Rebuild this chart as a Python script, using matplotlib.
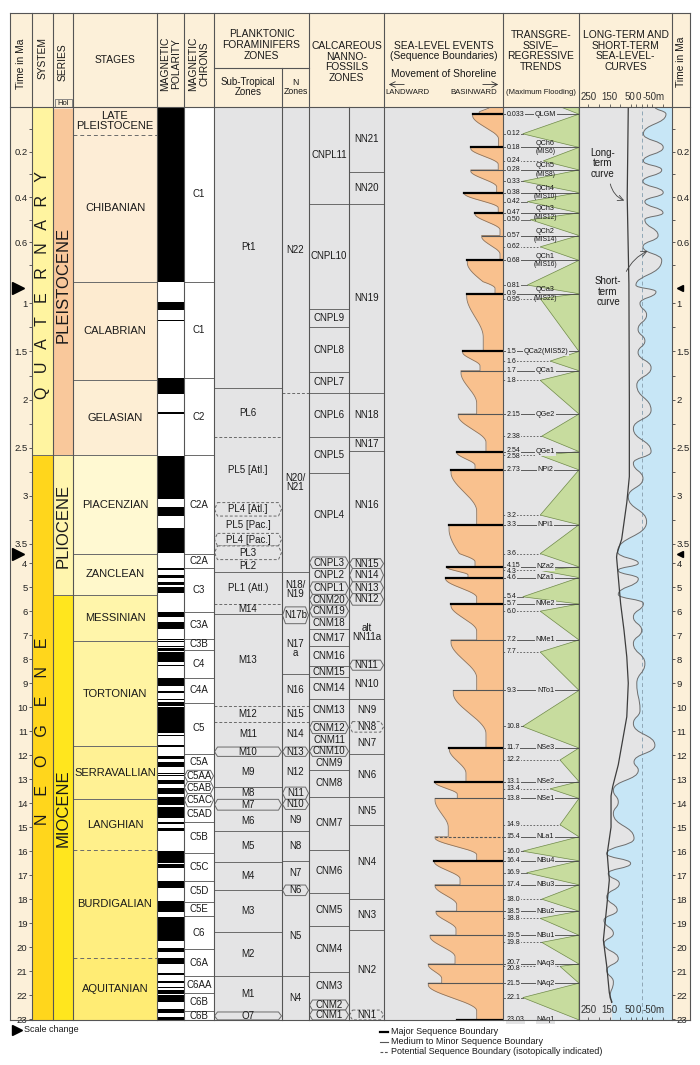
import numpy as np
import matplotlib
matplotlib.use('Agg')
import matplotlib.pyplot as plt
from matplotlib.path import Path
from matplotlib.patches import PathPatch, Polygon, Rectangle

plt.rcParams['font.family'] = ['Liberation Sans', 'DejaVu Sans']

END = 23.03

# ---- stratigraphy ---------------------------------------------------------
SYSTEMS = ['Q   U   A   T   E   R   N   A   R   Y', 'N    E    O    G    E    N    E']
SYSTEM_TOP = [0.0, 2.58]
SYSTEM_AT = [0.81, 11.0]
SYSTEM_COL = ['#FFF4A0', '#FFD61C']

SERIES = ['PLEISTOCENE', 'PLIOCENE', 'MIOCENE']
SERIES_TOP = [0.0117, 2.58, 5.333]
SERIES_AT = [0.81, 3.31, 14.19]
SERIES_COL = ['#F9C89B', '#FFF5AE', '#FFE61E']

STAGES = ['LATE\nPLEISTOCENE', 'CHIBANIAN', 'CALABRIAN', 'GELASIAN', 'PIACENZIAN', 'ZANCLEAN',
          'MESSINIAN', 'TORTONIAN', 'SERRAVALLIAN', 'LANGHIAN', 'BURDIGALIAN', 'AQUITANIAN']
STAGE_TOP = [0.0, 0.126, 0.774, 1.80, 2.58, 3.60, 5.333, 7.246, 11.63, 13.82, 15.97, 20.44]
STAGE_DASHED = [False, True, False, False, False, False, False, False, False, False, True, True]
STAGE_COL = ['#FDEDD6', '#FDEDD6', '#FDEBD0', '#FDEED4', '#FFF9D2', '#FFF8CB',
             '#FFF5AA', '#FFF4A2', '#FFF194', '#FFF08B', '#FFEE80', '#FFEC74']

# normal polarity intervals (black)
POL_N_TOP = [0.0, 0.988, 1.173, 1.778, 2.128, 2.581, 3.116, 3.330, 4.187, 4.493, 4.799, 4.997,
             6.033, 6.436, 7.140, 7.251, 7.454, 7.528, 7.695, 8.254, 8.771, 9.311, 9.647, 9.786,
             9.984, 11.146, 11.592, 12.049, 12.272, 12.735, 12.820, 13.032, 13.363, 13.739,
             14.163, 14.775, 15.032, 15.974, 16.303, 16.543, 17.235, 18.056, 18.748, 20.040,
             20.439, 21.083, 21.403, 21.659, 21.767, 21.992, 22.564, 22.902]
POL_N_BASE = [0.781, 1.072, 1.185, 1.945, 2.148, 3.032, 3.207, 3.596, 4.300, 4.631, 4.896, 5.235,
              6.252, 6.733, 7.212, 7.285, 7.489, 7.642, 8.108, 8.300, 9.105, 9.426, 9.721, 9.937,
              11.056, 11.188, 11.657, 12.174, 12.474, 12.770, 12.878, 13.183, 13.608, 14.070,
              14.609, 14.870, 15.160, 16.268, 16.472, 16.721, 17.533, 18.524, 19.722, 20.213,
              20.709, 21.159, 21.483, 21.688, 21.936, 22.268, 22.754, 23.030]

CHRONS = ['C1', 'C1', 'C2', 'C2A', 'C2A', 'C3', 'C3A', 'C3B', 'C4', 'C4A', 'C5', 'C5A', 'C5AA',
          'C5AB', 'C5AC', 'C5AD', 'C5B', 'C5C', 'C5D', 'C5E', 'C6', 'C6A', 'C6AA', 'C6B', 'C6B']
CHRON_TOP = [0.0, 0.774, 1.778, 2.58, 3.6, 4.18, 6.03, 7.14, 7.6, 8.77, 9.83, 11.94, 12.63,
             13.1, 13.6, 14.15, 14.78, 16.07, 17.24, 18.1, 18.72, 20.08, 21.21, 21.9, 22.67]
CHRON_KIND = ['s'] * 12 + ['b', 'b', 'b'] + ['s'] * 10

PF = ['Pt1', 'PL6', 'PL5 [Atl.]', 'PL4 [Atl.]', 'PL5 [Pac.]', 'PL4 [Pac.]', 'PL3', 'PL2',
      'PL1 (Atl.)', 'M14', 'M13', 'M12', 'M11', 'M10', 'M9', 'M8', 'M7', 'M6', 'M5', 'M4', 'M3',
      'M2', 'M1', 'O7']
PF_TOP = [0.0, 1.88, 2.39, 3.07, 3.21, 3.39, 3.52, 3.85, 4.37, 5.72, 6.13, 9.93, 10.6, 11.66,
          12.05, 13.33, 13.84, 14.29, 15.16, 16.44, 17.6, 19.38, 21.21, 22.7]
PF_KIND = ['s', 's', 'd', 'bd', 'd', 'bd', 'bd', 'd', 's', 'd', 's', 'd', 'd', 'b', 's', 's',
           'b', 's', 's', 's', 's', 's', 's', 'b']

NZ = ['N22', 'N20/\nN21', 'N18/\nN19', 'N17b', 'N17\na', 'N16', 'N15', 'N14', 'N13', 'N12',
      'N11', 'N10', 'N9', 'N8', 'N7', 'N6', 'N5', 'N4']
NZ_TOP = [0.0, 1.93, 4.37, 5.82, 6.52, 8.6, 9.93, 10.6, 11.66, 12.05, 13.33, 13.84, 14.26,
          15.16, 16.41, 17.41, 17.85, 21.21]
NZ_KIND = ['s', 'd', 's', 'b', 's', 's', 'd', 'd', 'b', 's', 'b', 'b', 's', 's', 's', 'b', 's', 's']

CN = ['CNPL11', 'CNPL10', 'CNPL9', 'CNPL8', 'CNPL7', 'CNPL6', 'CNPL5', 'CNPL4', 'CNPL3', 'CNPL2',
      'CNPL1', 'CNM20', 'CNM19', 'CNM18', 'CNM17', 'CNM16', 'CNM15', 'CNM14', 'CNM13', 'CNM12',
      'CNM11', 'CNM10', 'CNM9', 'CNM8', 'CNM7', 'CNM6', 'CNM5', 'CNM4', 'CNM3', 'CNM2', 'CNM1']
CN_TOP = [0.0, 0.43, 1.06, 1.25, 1.71, 1.93, 2.39, 2.76, 3.74, 4.22, 4.78, 5.3, 5.75, 6.24,
          6.73, 7.47, 8.3, 8.74, 9.64, 10.6, 11.1, 11.63, 12.05, 12.6, 13.74, 15.93, 17.74,
          19.13, 21.03, 22.2, 22.62]
CN_KIND = ['s'] * 8 + ['b', 's', 'b', 'b', 'b'] + ['s'] * 6 + ['b', 's', 'b'] + ['s'] * 7 + ['b', 'b']

NN = ['NN21', 'NN20', 'NN19', 'NN18', 'NN17', 'NN16', 'NN15', 'NN14', 'NN13', 'NN12',
      'alt\nNN11a', 'NN11', 'NN10', 'NN9', 'NN8', 'NN7', 'NN6', 'NN5', 'NN4', 'NN3', 'NN2', 'NN1']
NN_TOP = [0.0, 0.29, 0.43, 1.93, 2.39, 2.53, 3.81, 4.22, 4.78, 5.27, 5.75, 8.04, 8.46, 9.64,
          10.6, 11.04, 11.94, 13.74, 14.91, 18.0, 19.28, 22.62]
NN_KIND = ['s'] * 6 + ['b', 'b', 'b', 'b', 's', 'b', 's', 's', 'bd'] + ['s'] * 6 + ['bd']

# ---- sequence boundaries / sea level -------------------------------------
SB_AGE = [0.033, 0.18, 0.28, 0.38, 0.47, 0.57, 0.68, 0.9, 1.5, 1.7, 2.15, 2.54, 2.73, 3.3,
          4.15, 4.6, 5.7, 7.2, 9.3, 11.7, 13.1, 13.8, 15.4, 16.4, 17.4, 18.5, 19.5, 20.7,
          21.5, 23.03]
SB_LABEL = ['0.033', '0.18', '0.28', '0.38', '0.47', '0.57', '0.68', '0.9', '1.5', '1.7',
            '2.15', '2.54', '2.73', '3.3', '4.15', '4.6', '5.7', '7.2', '9.3', '11.7', '13.1',
            '13.8', '15.4', '16.4', '17.4', '18.5', '19.5', '20.7', '21.5', '23.03']
SB_NAME = ['QLGM', 'QCh6', 'QCh5', 'QCh4', 'QCh3', 'QCh2', 'QCh1', 'QCa3', 'QCa2(MIS52)',
           'QCa1', 'QGe2', 'QGe1', 'NPi2', 'NPi1', 'NZa2', 'NZa1', 'NMe2', 'NMe1', 'NTo1',
           'NSe3', 'NSe2', 'NSe1', 'NLa1', 'NBu4', 'NBu3', 'NBu2', 'NBu1', 'NAq3', 'NAq2', 'NAq1']
SB_MIS = ['', '(MIS6)', '(MIS8)', '(MIS10)', '(MIS12)', '(MIS14)', '(MIS16)', '(MIS22)'] + [''] * 22
SB_KIND = ['M', 'M', 'm', 'M', 'M', 'm', 'M', 'M', 'M', 'm', 'm', 'M', 'M', 'M', 'M', 'M',
           'M', 'm', 'm', 'M', 'M', 'm', 'p', 'M', 'm', 'm', 'm', 'm', 'm', 'M']
# shoreline position (% of column, landward = 0) at each boundary and at the end of each sequence
SHORE_SB = [74.5, 72.9, 72.9, 67.5, 76.5, 82.1, 70.0, 69.5, 66.1, 64.7, 62.4, 61.1, 56.3, 54.6,
            52.7, 51.8, 56.3, 56.3, 58.2, 54.9, 42.9, 42.9, 42.9, 42.3, 42.9, 43.7, 38.7, 37.2,
            37.2, 61.3]
SHORE_END = [80.0, 96.3, 96.0, 94.7, 96.0, 97.5, 97.5, 93.3, 83.4, 80.7, 77.9, 85.7, 76.5, 77.9,
             76.5, 70.6, 77.9, 77.9, 77.9, 85.7, 68.9, 61.6, 54.0, 77.9, 63.9, 61.1, 60.5, 59.7,
             48.5, 77.9]
SHORE_TOP = 89.0

MFS_AGE = [0.12, 0.24, 0.33, 0.42, 0.50, 0.62, 0.81, 0.95, 1.6, 1.8, 2.38, 2.58, 3.2, 3.6,
           4.3, 5.4, 6.0, 7.7, 10.8, 12.2, 13.4, 14.9, 16.0, 16.9, 18.0, 18.8, 19.8, 20.8, 22.1]
MFS_LABEL = ['0.12', '0.24', '0.33', '0.42', '0.50', '0.62', '0.81', '0.95', '1.6', '1.8',
             '2.38', '2.58', '3.2', '3.6', '4.3', '5.4', '6.0', '7.7', '10.8', '12.2', '13.4',
             '14.9', '16.0', '16.9', '18.0', '18.8', '19.8', '20.8', '22.1']
MFS_TREND = [0.74, 0.47, 0.74, 0.68, 0.64, 0.51, 0.68, 0.51, 0.38, 0.51, 0.49, 0.51, 0.51, 0.51,
             0.51, 0.74, 0.51, 0.51, 0.74, 0.25, 0.38, 0.25, 0.74, 0.69, 0.49, 0.51, 0.49,
             0.25, 0.74]
MFS_DASHED = [0, 1, 0, 0, 0, 1, 0, 1, 1, 1, 1, 1, 1, 1, 1, 0, 1, 1, 0, 1, 1, 1, 0, 0, 1, 1, 1, 1, 0]
TREND_TOP = 0.25

ST_T = [0.0, 0.033, 0.12, 0.18, 0.24, 0.28, 0.33, 0.38, 0.42, 0.47, 0.50, 0.57, 0.62, 0.68,
        0.81, 0.88, 1.0, 1.12, 1.27, 1.39, 1.51, 1.67, 1.85, 2.11, 2.30, 2.54, 2.66, 2.82,
        3.01, 3.27, 3.58, 4.0, 4.3, 4.65, 5.3, 5.68, 6.24, 6.8, 7.34, 8.18, 9.01, 10.13,
        10.68, 11.59, 12.28, 12.63, 13.46, 13.95, 14.43, 15.47, 16.1, 16.51, 16.93, 17.35,
        17.9, 18.46, 18.88, 19.43, 19.85, 20.48, 20.96, 21.45, 22.08, 22.3]
ST_M = [-62, -114, -8, -101, -8, -94, -6, -101, -15, -100, -15, -77, -6, -94, 27, -67, 8, -23,
        17, -15, 17, -44, 23, -44, 39, -44, 39, -6, 63, -23, 113, 16, 110, 16, 110, -8, 39, 0,
        39, -15, 23, 8, 39, -62, 36, 16, 133, 110, 133, 36, 164, 52, 157, 105, 164, 115, 177,
        133, 177, 110, 164, 133, 149, 139]
LT_T = [0.0, 0.4, 0.8, 2.0, 2.8, 3.07, 3.45, 3.6, 3.75, 4.57, 5.68, 6.8, 7.9, 9.0, 10.4, 11.6,
        12.4, 13.3, 13.7, 15.0, 16.1, 17.2, 18.3, 19.7, 20.8, 21.9, 22.3]
LT_M = [63, 68, 60, 58, 58, 70, 94, 116, 118, 110, 99, 83, 70, 63, 70, 94, 110, 136, 144, 144,
        162, 152, 164, 180, 164, 152, 141]

MAJOR_T = [0.2, 0.4, 0.6, 1, 1.5, 2, 2.5, 3, 3.5, 4, 5, 6, 7, 8, 9, 10, 11, 12, 13, 14, 15, 16,
           17, 18, 19, 20, 21, 22, 23]
MAJOR_LAB = ['0.2', '0.4', '0.6', '1', '1.5', '2', '2.5', '3', '3.5', '4', '5', '6', '7', '8',
             '9', '10', '11', '12', '13', '14', '15', '16', '17', '18', '19', '20', '21', '22', '23']
MINOR_T = [0.1, 0.3, 0.5, 0.7, 1.25, 1.75, 2.25, 2.75, 3.25]
SCALE_MARK = [0.84, 3.6]
# sea-level scale: tick marks (m) and where the printed labels sit
LS_MARKS = [250, 200, 150, 100, 50, 25, 0, -25, -50, -100]
LS_LAB_AT = [247, 153, 55, 15, -58]
LS_LAB = ['250', '150', '50', '0', '-50m']

# ---- piecewise time scale (scale changes at 0.774 and 3.6 Ma) ------------
T_BRK = [0.0, 0.774, 3.6, END]
Y_BRK = [0.0, 174.9, 446.9, 913.2]


def fwd(t):
    t = np.asarray(t, float)
    y = np.interp(t, T_BRK, Y_BRK)
    y = np.where(t < 0, t * 226.0, y)
    return np.where(t > END, Y_BRK[-1] + (t - END) * 24.0, y)


def inv(y):
    y = np.asarray(y, float)
    t = np.interp(y, Y_BRK, T_BRK)
    t = np.where(y < 0, y / 226.0, t)
    return np.where(y > Y_BRK[-1], END + (y - Y_BRK[-1]) / 24.0, t)


def mid(t0, t1):
    return float(inv((fwd(t0) + fwd(t1)) / 2))


W, H = 700, 1065
HEAD, TOP, BOT, SUB = 12.5, 106.7, 1019.9, 68.3
HEADER_BG = '#FCF0D9'
GRAY = '#E4E4E5'
LINE = '#6a6a6a'
ORANGE = '#F9C18E'
GREEN = '#C7DC9E'
BLUE = '#C7E6F6'
TXT = '#1a1a1a'

fig = plt.figure(figsize=(W / 100, H / 100), dpi=100)
bg = fig.add_axes([0, 0, 1, 1])
bg.set_xlim(0, W)
bg.set_ylim(H, 0)
bg.axis('off')
bg.add_patch(Rectangle((10, HEAD), 680, TOP - HEAD, fc=HEADER_BG, ec='none'))


def frame(x0, x1):
    return [x0 / W, 1 - BOT / H, (x1 - x0) / W, (BOT - TOP) / H]


ax = fig.add_axes(frame(10, 690))
ax.set_yscale('function', functions=(fwd, inv))
ax.set_ylim(END, 0)
ax.set_xlim(10, 690)
ax.axis('off')


def col_ax(x0, x1, xlim):
    a = fig.add_axes(frame(x0, x1), sharey=ax)
    a.set_xlim(*xlim)
    a.axis('off')
    return a


def band(x0, x1, t0, t1, color, z=1):
    ax.fill_between([x0, x1], t0, t1, color=color, lw=0, zorder=z)


# column backgrounds
band(10, 32, 0, END, HEADER_BG)
band(672, 690, 0, END, HEADER_BG)
band(157, 214, 0, END, 'white')
band(214, 672, 0, END, GRAY)

# system / series / stages
for i, (name, t0) in enumerate(zip(SYSTEMS, SYSTEM_TOP)):
    t1 = SYSTEM_TOP[i + 1] if i + 1 < len(SYSTEM_TOP) else END
    band(32, 53, t0, t1, SYSTEM_COL[i])
    ax.text(42.5, SYSTEM_AT[i], name, rotation=90, ha='center', va='center', fontsize=11.5, color=TXT)
    if i > 0:
        ax.plot([32, 53], [t0, t0], color=LINE, lw=0.7, zorder=3)
for i, (name, t0) in enumerate(zip(SERIES, SERIES_TOP)):
    t1 = SERIES_TOP[i + 1] if i + 1 < len(SERIES_TOP) else END
    band(53, 73, t0, t1, SERIES_COL[i])
    ax.text(63.5, SERIES_AT[i], name, rotation=90, ha='center', va='center', fontsize=12, color=TXT)
    if i > 0:
        ax.plot([53, 73], [t0, t0], color=LINE, lw=0.7, zorder=3)
band(53, 73, 0, SERIES_TOP[0], '#FDE6D0')
for i, (name, t0) in enumerate(zip(STAGES, STAGE_TOP)):
    t1 = STAGE_TOP[i + 1] if i + 1 < len(STAGE_TOP) else END
    band(73, 157, t0, t1, STAGE_COL[i])
    ax.text(115, mid(t0, t1), name, ha='center', va='center', fontsize=8, color=TXT, linespacing=0.95)
    if i > 0:
        ax.plot([73, 157], [t0, t0], color=LINE, lw=0.7, zorder=3,
                ls=(0, (4, 3)) if STAGE_DASHED[i] else '-')

# magnetic polarity
for t0, t1 in zip(POL_N_TOP, POL_N_BASE):
    band(157, 184, t0, t1, 'black', z=2)


def zones(x0, x1, tops, names, kinds, face, fs=7):
    bases = tops[1:] + [END]
    for i, (t0, t1, nm, k) in enumerate(zip(tops, bases, names, kinds)):
        tm = mid(t0, t1)
        ls = (0, (3, 2)) if 'd' in k else '-'
        if 'b' in k:
            d = 3.5
            ax.add_patch(Polygon([(x0 + d, t0), (x1 - d, t0), (x1 - 0.5, tm), (x1 - d, t1),
                                  (x0 + d, t1), (x0 + 0.5, tm)], closed=True, fc=face, ec=LINE,
                                 lw=0.7, ls=ls, zorder=3))
        elif i > 0 and 'b' not in kinds[i - 1]:
            ax.plot([x0, x1], [t0, t0], color=LINE, lw=0.7, ls=ls, zorder=3)
        ax.text((x0 + x1) / 2, tm, nm, ha='center', va='center', fontsize=fs, color=TXT,
                zorder=4, linespacing=0.95)


zones(184, 214, CHRON_TOP, CHRONS, CHRON_KIND, 'white')
zones(214, 282, PF_TOP, PF, PF_KIND, GRAY)
zones(282, 309, NZ_TOP, NZ, NZ_KIND, GRAY)
zones(309, 349, CN_TOP, CN, CN_KIND, GRAY)
zones(349, 384, NN_TOP, NN, NN_KIND, GRAY)

# scale change markers
for t in SCALE_MARK:
    ax.plot([18], [t], marker='>', ms=8, color='black', zorder=5)
    ax.plot([680], [t], marker='<', ms=5, color='black', zorder=5)

# ---- sea-level events (shoreline movement) -------------------------------
sl = col_ax(384, 503, (0, 100))
starts = [0.0] + SB_AGE[:-1]
shore_a = [SHORE_TOP] + SHORE_SB[:-1]
tt, xx = [], []
for ta, tb, xa, xb in zip(starts, SB_AGE, shore_a, SHORE_END):
    u = np.linspace(0, 1, 80)
    s = np.clip((u - 0.05) / 0.7, 0, 1)
    s = s * s * (3 - 2 * s)
    tt.append(ta + u * (tb - ta))
    xx.append(xa + (xb - xa) * s)
tt = np.concatenate(tt)
xx = np.concatenate(xx)
sl.fill_betweenx(tt, xx, 100, color=ORANGE, lw=0, zorder=2)
sl.plot(xx, tt, color='#8d735c', lw=0.6, zorder=3)
SB_STYLE = {'M': dict(color='black', lw=1.6), 'm': dict(color='#555555', lw=0.8),
            'p': dict(color='#555555', lw=0.8, ls=(0, (2.5, 1.5)))}
for t, x, k in zip(SB_AGE, SHORE_SB, SB_KIND):
    sl.plot([x, 100], [t, t], zorder=4, **SB_STYLE[k])

# ---- transgressive-regressive trends --------------------------------------
tr = col_ax(503, 579, (1, 0))
tr.add_patch(Polygon([(0, 0), (TREND_TOP, 0), (0, SB_AGE[0])], closed=True, fc=GREEN,
                     ec='#6f8a48', lw=0.5, zorder=2))
for ta, tb, tm, mg in zip(SB_AGE[:-1], SB_AGE[1:], MFS_AGE, MFS_TREND):
    tr.add_patch(Polygon([(0, ta), (mg, tm), (0, tb)], closed=True, fc=GREEN, ec='#6f8a48',
                         lw=0.5, zorder=2))
box = dict(boxstyle='square,pad=0.08', fc=GRAY, ec='none')
for t, nm, mis in zip(SB_AGE, SB_NAME, SB_MIS):
    tr.plot([1, 0], [t, t], color='#444444', lw=0.6, zorder=3)
    if mis:
        tr.annotate(nm, (0.44, t), xytext=(0, 0.6), textcoords='offset points', ha='center',
                    va='bottom', fontsize=5.2, color=TXT, zorder=5)
        tr.annotate(mis, (0.44, t), xytext=(0, -0.6), textcoords='offset points', ha='center',
                    va='top', fontsize=4.8, color=TXT, zorder=5)
    else:
        tr.text(0.44, t, nm, ha='center', va='center', fontsize=5.2, color=TXT, bbox=box, zorder=5)
for t, mg, dsh in zip(MFS_AGE, MFS_TREND, MFS_DASHED):
    tr.plot([1, mg], [t, t], color='#555555', lw=0.6, zorder=3, ls=(0, (2, 2)) if dsh else '-')

# age labels at the left of the column, nudged apart where boundaries crowd together
ages = sorted(zip(SB_AGE + MFS_AGE, SB_LABEL + MFS_LABEL), key=lambda p: p[0])
ys = [float(fwd(t)) for t, _ in ages]
placed = list(ys)
for i in range(1, len(placed)):
    if placed[i] - placed[i - 1] < 6.0:
        shift = 6.0 - (placed[i] - placed[i - 1])
        placed[i - 1] -= shift / 2
        placed[i] += shift / 2
for (t, lab), y0, y1 in zip(ages, ys, placed):
    tr.annotate(lab, (0.95, t), xytext=(0, -(y1 - y0) * 0.72), textcoords='offset points',
                ha='left', va='center', fontsize=5, color=TXT, bbox=box, zorder=5)

# ---- long-term and short-term sea-level curves ----------------------------
ls_ax = col_ax(579, 672, (294.4, -142.3))
verts = [(ST_M[0], ST_T[0])]
codes = [Path.MOVETO]
for i in range(len(ST_T) - 1):
    d = (ST_T[i + 1] - ST_T[i]) * 0.5
    verts += [(ST_M[i], ST_T[i] + d), (ST_M[i + 1], ST_T[i + 1] - d), (ST_M[i + 1], ST_T[i + 1])]
    codes += [Path.CURVE4] * 3
fill_verts = verts + [(ST_M[-1], END), (-142.3, END), (-142.3, ST_T[0]), (ST_M[0], ST_T[0])]
fill_codes = codes + [Path.LINETO, Path.LINETO, Path.LINETO, Path.CLOSEPOLY]
ls_ax.add_patch(PathPatch(Path(fill_verts, fill_codes), fc=BLUE, ec='none', zorder=1))
ls_ax.axvline(0, color='#8fa7b6', lw=0.7, ls=(0, (4, 3)), zorder=2)
ls_ax.add_patch(PathPatch(Path(verts, codes), fill=False, ec='#6d6d6d', lw=0.7, zorder=3))
ls_ax.plot(LT_M, LT_T, color='#3d3d3d', lw=0.9, zorder=3)
ls_ax.text(182, 0.25, 'Long-\nterm\ncurve', ha='center', va='center', fontsize=7, color=TXT,
           linespacing=1.05)
ls_ax.annotate('', xy=(70, 0.42), xytext=(150, 0.33),
               arrowprops=dict(arrowstyle='->', lw=0.6, color='#444444',
                               connectionstyle='arc3,rad=0.3'))
ls_ax.text(158, 0.88, 'Short-\nterm\ncurve', ha='center', va='center', fontsize=7, color=TXT,
           linespacing=1.05)
ls_ax.annotate('', xy=(-39, 0.634), xytext=(78, 0.74),
               arrowprops=dict(arrowstyle='->', lw=0.6, color='#444444',
                               connectionstyle='arc3,rad=-0.2'))

# sea-level scale at top and bottom of the column
for yy in (TOP, BOT):
    sc = fig.add_axes([579 / W, 1 - yy / H, 93 / W, 1e-4])
    sc.set_xlim(294.4, -142.3)
    sc.xaxis.tick_top()
    sc.set_xticks(LS_LAB_AT, labels=LS_LAB)
    sc.set_xticks(LS_MARKS, minor=True)
    sc.tick_params(axis='x', which='major', length=0, labelsize=7, pad=3.2,
                   labelcolor='#333333')
    sc.tick_params(axis='x', which='minor', direction='out', length=2.5, width=0.5,
                   color='#333333')
    sc.yaxis.set_visible(False)
    for s in sc.spines.values():
        s.set_visible(False)
    sc.patch.set_visible(False)

# time axes (left and right)
for xp, side in ((32, 'left'), (672, 'right')):
    ta = fig.add_axes([xp / W, 1 - BOT / H, 1e-4, (BOT - TOP) / H], sharey=ax)
    ta.xaxis.set_visible(False)
    for s in ta.spines.values():
        s.set_visible(False)
    ta.patch.set_visible(False)
    ta.set_yticks(MAJOR_T, labels=MAJOR_LAB)
    ta.set_yticks(MINOR_T, minor=True)
    if side == 'right':
        ta.yaxis.tick_right()
    ta.tick_params(axis='y', which='both', direction='out', length=2.2, width=0.6,
                   color='#444444', labelsize=6.8, pad=1, labelcolor='#222222')

# ---- overlay: borders, header and footer ----------------------------------
ov = fig.add_axes([0, 0, 1, 1])
ov.set_xlim(0, W)
ov.set_ylim(H, 0)
ov.axis('off')
ov.patch.set_visible(False)
BORDER = dict(color='#555555', lw=0.8)
for x in [10, 32, 53, 73, 157, 184, 214, 309, 384, 503, 579, 672, 690]:
    ov.plot([x, x], [HEAD, BOT], **BORDER)
ov.plot([282, 282], [SUB, BOT], **BORDER)
ov.plot([349, 349], [TOP, BOT], **BORDER)
for y in (HEAD, TOP, BOT):
    ov.plot([10, 690], [y, y], **BORDER)
ov.plot([214, 309], [SUB, SUB], **BORDER)

ov.add_patch(Rectangle((54.5, 99), 17, 8, fc=HEADER_BG, ec='#777777', lw=0.6))
ov.text(63, 103.2, 'Hol', ha='center', va='center', fontsize=5.5, color=TXT)

HF = dict(ha='center', va='center', fontsize=7.4, color=TXT, linespacing=1.1)
ov.text(21, 64, 'Time in Ma', rotation=90, **HF)
ov.text(42.5, 58, 'SYSTEM', rotation=90, **HF)
ov.text(63, 62, 'SERIES', rotation=90, **HF)
ov.text(115, 60, 'STAGES', **HF)
ov.text(170.5, 64, 'MAGNETIC\nPOLARITY', rotation=90, **HF)
ov.text(199, 64, 'MAGNETIC\nCHRONS', rotation=90, **HF)
ov.text(261.5, 45, 'PLANKTONIC\nFORAMINIFERS\nZONES', **HF)
ov.text(248, 87, 'Sub-Tropical\nZones', ha='center', va='center', fontsize=7, color=TXT,
        linespacing=1.1)
ov.text(295.5, 87, 'N\nZones', ha='center', va='center', fontsize=6.3, color=TXT, linespacing=1.1)
ov.text(346.5, 62, 'CALCAREOUS\nNANNO-\nFOSSILS\nZONES', **HF)
ov.text(443.5, 51, 'SEA-LEVEL EVENTS\n(Sequence Boundaries)', **HF)
ov.text(443.5, 74, 'Movement of Shoreline', **HF)
ov.annotate('', xy=(386, 84.5), xytext=(407, 84.5),
            arrowprops=dict(arrowstyle='->', lw=0.6, color='#333333'))
ov.annotate('', xy=(501, 84.5), xytext=(480, 84.5),
            arrowprops=dict(arrowstyle='->', lw=0.6, color='#333333'))
ov.text(407, 93, 'LANDWARD', ha='center', va='center', fontsize=5.6, color=TXT)
ov.text(474, 93, 'BASINWARD', ha='center', va='center', fontsize=5.6, color=TXT)
ov.text(541, 51, 'TRANSGRE-\nSSIVE–\nREGRESSIVE\nTRENDS', **HF)
ov.text(541, 93, '(Maximum Flooding)', ha='center', va='center', fontsize=5.5, color=TXT)
ov.text(625.5, 51, 'LONG-TERM AND\nSHORT-TERM\nSEA-LEVEL-\nCURVES', **HF)
ov.text(681, 62, 'Time in Ma', rotation=90, **HF)

ov.plot([17], [1030], marker='>', ms=7, color='black')
ov.text(24, 1030, 'Scale change', ha='left', va='center', fontsize=6.5, color=TXT)
LEG = [('Major Sequence Boundary', SB_STYLE['M']),
       ('Medium to Minor Sequence Boundary', SB_STYLE['m']),
       ('Potential Sequence Boundary (isotopically indicated)', SB_STYLE['p'])]
for i, (lab, st) in enumerate(LEG):
    y = 1031.5 + i * 10.2
    ov.plot([380, 388], [y, y], **st)
    ov.text(391, y, lab, ha='left', va='center', fontsize=6.5, color=TXT)

fig.savefig('out.png', dpi=100)
